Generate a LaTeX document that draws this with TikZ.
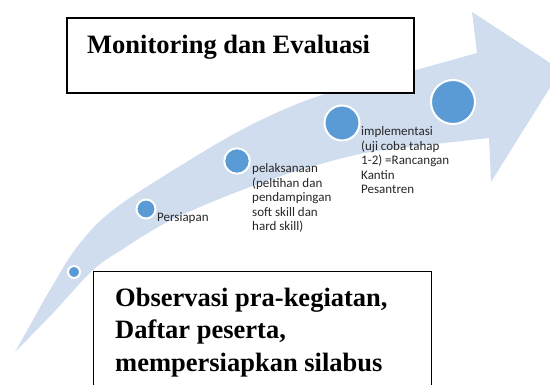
\documentclass[tikz,border=0pt]{standalone}
\usepackage{fontspec}
\setmainfont{Liberation Serif}
\newfontfamily\lblfont{Carlito}
\definecolor{bandblue}{RGB}{207,221,238}
\definecolor{dotblue}{RGB}{91,155,213}
\tikzset{
  boxstyle/.style={draw=black, line width=1.6pt, fill=white, inner sep=0pt},
  bigtext/.style={font=\fontsize{26.5}{33}\selectfont\bfseries, inner sep=0pt, align=left},
  lbl/.style={font=\lblfont\fontsize{13}{14.5}\selectfont, inner sep=0pt, align=left, text=black!85},
  dot/.style={circle, fill=dotblue, draw=white, line width=2pt, inner sep=0pt}
}
\begin{document}
\begin{tikzpicture}[x=1pt, y=-1pt]
\useasboundingbox (0,0) rectangle (550,385);
\clip (0,0) rectangle (550,385);
% curved arrow band
\fill[bandblue]
  plot[smooth, tension=0.6] coordinates {(15,352) (33,320) (50,290) (77,247) (113,210) (180,166) (247,127) (313,98) (380,80) (477,53)}
  -- (472,12) -- (561,70) -- (491,182) -- (489,138)
  -- plot[smooth, tension=0.6] coordinates {(489,138) (410,147) (360,154) (300,170) (250,187) (200,207) (160,226) (123,249) (93,270) (53,313) (15,352)}
  -- cycle;
% top box
\node[boxstyle, minimum width=347pt, minimum height=75pt, anchor=north west] (monbox) at (66,17) {};
\node[bigtext, anchor=base west] (montext) at (87,54) {Monitoring dan Evaluasi};
% bottom box
\node[boxstyle, line width=1.3pt, minimum width=338pt, minimum height=140pt, anchor=north west] (obsbox) at (93,271) {};
\node[bigtext, anchor=base west] (obstext) at (115,372) {Observasi pra-kegiatan,\\Daftar peserta,\\mempersiapkan silabus};
% dots
\node[dot, minimum size=12pt] (c0) at (74,272) {};
\node[dot, minimum size=19pt] (c1) at (146,209) {};
\node[dot, minimum size=25.5pt] (c2) at (237,161) {};
\node[dot, minimum size=35pt] (c3) at (342,123) {};
\node[dot, minimum size=44pt] (c4) at (453,102) {};
% labels
\node[lbl, anchor=base west] (l1) at (157,222) {Persiapan};
\node[lbl, anchor=base west] (l2) at (252,231) {pelaksanaan\\(peltihan dan\\pendampingan\\soft skill dan\\hard skill)};
\node[lbl, anchor=base west] (l3) at (361,194) {implementasi\\(uji coba tahap\\1-2) =Rancangan\\Kantin\\Pesantren};
\end{tikzpicture}
\end{document}
